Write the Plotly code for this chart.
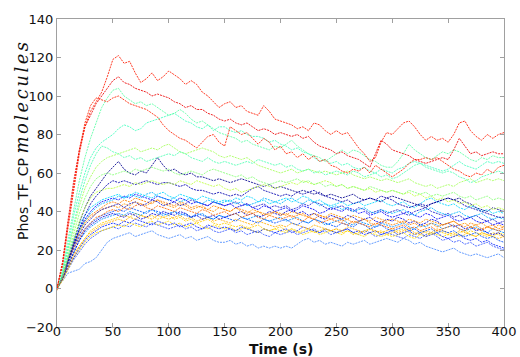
import plotly.graph_objects as go

TIME = list(range(0, 401, 5))

# each series: 81 values at t = 0, 5, ..., 400 (rows of 10 + last value)
RED_A = [0, 12, 32, 52, 70, 84, 92, 97, 102, 110,
         119, 121, 117, 118, 112, 107, 109, 112, 108, 110,
         113, 111, 109, 106, 108, 106, 102, 100, 97, 94,
         96, 97, 94, 95, 92, 91, 90, 95, 92, 88,
         87, 86, 85, 83, 84, 82, 86, 85, 82, 80,
         82, 80, 81, 77, 73, 70, 66, 68, 76, 81,
         80, 83, 86, 87, 84, 80, 77, 79, 77, 78,
         76, 80, 86, 87, 82, 79, 77, 80, 78, 80,
         81]
RED_B = [0, 14, 36, 56, 72, 84, 90, 96, 100, 104,
         108, 110, 107, 106, 104, 103, 102, 100, 101, 100,
         99, 97, 96, 94, 95, 93, 93, 91, 90, 88,
         87, 88, 86, 85, 86, 84, 82, 83, 82, 80,
         81, 80, 79, 80, 78, 79, 76, 74, 73, 72,
         70, 71, 69, 68, 67, 65, 63, 70, 77, 75,
         72, 71, 70, 69, 67, 66, 65, 66, 67, 68,
         67, 72, 78, 74, 70, 71, 69, 70, 71, 70,
         70]
RED_C = [0, 13, 34, 54, 72, 86, 95, 99, 98, 97,
         99, 100, 98, 96, 95, 94, 93, 91, 89, 85,
         82, 80, 78, 77, 75, 73, 76, 79, 80, 76,
         74, 84, 82, 80, 81, 78, 75, 78, 76, 72,
         74, 70, 71, 68, 70, 67, 69, 66, 67, 64,
         63, 61, 60, 62, 61, 63, 60, 64, 62, 60,
         58, 60, 62, 65, 67, 67, 68, 67, 68, 66,
         64, 62, 61, 59, 58, 60, 59, 62, 60, 63,
         64]
AQUA_1 = [0, 10, 26, 42, 56, 68, 78, 86, 94, 99,
          103, 104, 100, 98, 96, 97, 95, 96, 94, 92,
          90, 91, 93, 91, 88, 86, 87, 85, 83, 81,
          80, 79, 78, 76, 77, 75, 74, 73, 72, 74,
          73, 75, 77, 74, 72, 70, 69, 68, 66, 68,
          70, 72, 70, 72, 71, 69, 67, 66, 64, 63,
          63, 66, 70, 75, 72, 70, 68, 67, 69, 71,
          70, 72, 71, 69, 67, 66, 68, 67, 69, 68,
          68]
AQUA_2 = [0, 9, 23, 38, 50, 60, 68, 73, 76, 78,
          80, 83, 85, 84, 82, 83, 86, 87, 88, 89,
          90, 91, 89, 87, 86, 84, 83, 85, 82, 84,
          84, 82, 81, 82, 80, 79, 79, 78, 76, 77,
          75, 74, 72, 73, 71, 70, 68, 66, 67, 65,
          66, 64, 65, 63, 62, 63, 61, 60, 62, 61,
          60, 62, 63, 65, 66, 65, 64, 63, 62, 61,
          62, 64, 66, 64, 63, 62, 64, 66, 65, 66,
          65]
AQUA_3 = [0, 8, 21, 34, 46, 56, 64, 70, 74, 73,
          71, 70, 68, 69, 67, 68, 66, 67, 68, 69,
          70, 69, 71, 70, 68, 67, 66, 68, 66, 65,
          66, 65, 64, 65, 66, 65, 67, 66, 65, 64,
          65, 63, 64, 62, 61, 62, 60, 61, 59, 60,
          61, 60, 59, 61, 60, 58, 59, 60, 58, 59,
          57, 58, 60, 62, 64, 65, 63, 62, 61, 60,
          61, 60, 58, 57, 55, 56, 58, 59, 60, 61,
          60]
GREEN_1 = [0, 8, 20, 32, 43, 52, 58, 63, 66, 68,
           69, 70, 71, 72, 73, 71, 72, 73, 72, 74,
           75, 73, 71, 70, 71, 72, 73, 72, 71, 69,
           68, 69, 68, 67, 68, 66, 64, 63, 62, 61,
           60, 61, 62, 60, 61, 62, 61, 60, 61, 60,
           59, 60, 61, 59, 58, 57, 58, 57, 56, 57,
           56, 55, 56, 57, 55, 54, 53, 54, 52, 53,
           54, 53, 55, 56, 57, 55, 56, 57, 56, 57,
           56]
GREEN_2 = [0, 7, 18, 29, 39, 47, 53, 57, 59, 60,
           59, 60, 61, 60, 62, 61, 62, 63, 62, 61,
           62, 60, 59, 60, 61, 60, 59, 61, 62, 61,
           60, 59, 58, 59, 57, 58, 56, 55, 54, 55,
           56, 55, 56, 57, 55, 56, 54, 55, 53, 54,
           53, 54, 52, 53, 52, 51, 53, 52, 51, 50,
           51, 50, 49, 51, 50, 49, 50, 48, 49, 48,
           49, 50, 48, 47, 48, 46, 47, 48, 46, 47,
           46]
GREEN_3 = [0, 6, 16, 26, 35, 42, 47, 50, 51, 52,
           52, 53, 54, 53, 55, 54, 55, 56, 55, 54,
           55, 54, 56, 55, 54, 56, 55, 54, 53, 54,
           52, 51, 52, 50, 51, 52, 53, 54, 53, 52,
           53, 54, 55, 54, 56, 55, 54, 55, 56, 55,
           53, 54, 52, 53, 52, 51, 52, 50, 51, 50,
           51, 50, 49, 50, 48, 49, 47, 48, 46, 47,
           45, 46, 44, 45, 43, 44, 42, 43, 41, 42,
           41]
NAVY_1 = [0, 6, 15, 25, 34, 42, 48, 52, 56, 60,
          63, 66, 62, 60, 59, 61, 60, 64, 68, 64,
          61, 62, 60, 59, 60, 58, 58, 57, 56, 57,
          56, 55, 56, 57, 56, 55, 54, 53, 54, 52,
          53, 52, 51, 50, 51, 50, 49, 50, 48, 49,
          48, 47, 48, 49, 47, 46, 47, 46, 45, 47,
          48, 47, 46, 45, 44, 43, 42, 44, 45, 46,
          47, 46, 47, 45, 44, 42, 41, 40, 42, 41,
          40]
NAVY_2 = [0, 6, 14, 23, 31, 38, 44, 48, 51, 54,
          56, 55, 56, 55, 54, 55, 56, 55, 54, 55,
          55, 54, 53, 54, 52, 51, 51, 50, 49, 50,
          49, 48, 49, 48, 50, 52, 53, 51, 50, 49,
          48, 49, 48, 50, 49, 50, 51, 49, 48, 47,
          46, 45, 46, 44, 45, 46, 47, 46, 48, 47,
          46, 44, 43, 42, 43, 44, 43, 44, 45, 46,
          47, 46, 45, 43, 42, 41, 40, 39, 38, 37,
          37]
BULK_1 = [0, 7, 16, 24, 31, 36, 40, 43, 45, 46,
          47, 46, 48, 47, 49, 48, 47, 46, 48, 47,
          46, 45, 47, 46, 44, 45, 44, 43, 45, 44,
          43, 44, 42, 43, 44, 42, 41, 43, 42, 40,
          41, 42, 40, 41, 43, 42, 41, 39, 40, 42,
          41, 40, 42, 41, 39, 40, 38, 39, 40, 38,
          37, 38, 39, 40, 38, 37, 39, 38, 36, 37,
          38, 36, 35, 36, 37, 35, 34, 35, 33, 34,
          33]
BULK_2 = [0, 6, 14, 21, 27, 31, 34, 36, 38, 39,
          40, 41, 40, 42, 41, 40, 39, 41, 40, 39,
          38, 40, 39, 38, 37, 39, 38, 37, 36, 38,
          37, 36, 35, 37, 36, 35, 34, 36, 35, 34,
          35, 36, 34, 33, 35, 34, 36, 35, 34, 33,
          32, 34, 33, 32, 34, 33, 31, 32, 33, 31,
          30, 31, 32, 30, 31, 29, 30, 31, 29, 30,
          29, 30, 28, 27, 28, 29, 27, 26, 27, 25,
          24]
BULK_3 = [-1, 6, 15, 23, 30, 35, 38, 40, 42, 44,
          45, 44, 46, 45, 47, 46, 45, 44, 46, 45,
          44, 43, 45, 44, 42, 43, 42, 41, 43, 42,
          41, 40, 42, 41, 40, 39, 40, 38, 39, 40,
          38, 39, 37, 38, 39, 37, 36, 38, 37, 36,
          37, 35, 36, 34, 35, 36, 34, 33, 35, 34,
          33, 34, 35, 33, 34, 32, 33, 34, 32, 33,
          34, 35, 33, 32, 34, 33, 31, 32, 33, 31,
          32]
BULK_4 = [0, 5, 12, 18, 22, 26, 30, 32, 34, 35,
          36, 37, 38, 37, 39, 38, 37, 38, 36, 37,
          38, 36, 37, 35, 36, 34, 35, 36, 34, 33,
          34, 33, 32, 33, 31, 32, 33, 31, 30, 31,
          32, 30, 31, 29, 30, 31, 29, 30, 31, 30,
          31, 29, 30, 28, 29, 30, 31, 29, 30, 28,
          29, 30, 31, 29, 28, 30, 29, 28, 30, 29,
          28, 29, 27, 28, 30, 29, 28, 27, 29, 28,
          27]
BULK_5 = [0, 7, 16, 24, 30, 35, 39, 42, 44, 45,
          46, 48, 47, 49, 48, 47, 49, 50, 48, 47,
          46, 47, 45, 46, 47, 45, 44, 46, 45, 44,
          45, 46, 44, 45, 43, 44, 45, 47, 46, 45,
          44, 46, 47, 45, 44, 46, 45, 43, 44, 42,
          43, 41, 42, 40, 41, 42, 40, 39, 41, 40,
          39, 40, 41, 39, 38, 40, 41, 42, 40, 39,
          38, 39, 40, 38, 37, 38, 39, 37, 36, 37,
          36]
BULK_6 = [0, 6, 14, 21, 26, 31, 34, 37, 38, 40,
          41, 40, 42, 41, 43, 44, 42, 41, 43, 42,
          41, 40, 42, 41, 40, 39, 41, 40, 38, 39,
          40, 38, 39, 37, 38, 39, 37, 36, 38, 37,
          36, 37, 38, 36, 35, 37, 36, 34, 35, 36,
          35, 34, 33, 35, 34, 33, 32, 34, 33, 32,
          31, 32, 33, 31, 32, 30, 31, 32, 30, 31,
          32, 33, 31, 30, 32, 31, 30, 32, 31, 30,
          31]
BULK_7 = [0, 5, 11, 17, 22, 26, 29, 31, 33, 34,
          35, 36, 35, 37, 36, 38, 37, 36, 38, 37,
          36, 37, 38, 36, 37, 35, 36, 37, 35, 36,
          35, 34, 36, 35, 34, 33, 35, 34, 33, 32,
          33, 32, 34, 33, 32, 31, 33, 32, 31, 30,
          31, 30, 32, 31, 30, 29, 31, 30, 29, 30,
          31, 29, 30, 31, 29, 28, 30, 29, 31, 30,
          29, 28, 30, 29, 28, 27, 29, 28, 27, 26,
          27]
BULK_8 = [0, 5, 11, 16, 21, 25, 28, 30, 32, 33,
          34, 33, 35, 34, 36, 35, 34, 33, 35, 34,
          33, 34, 32, 33, 34, 32, 31, 33, 32, 31,
          32, 31, 30, 32, 31, 30, 29, 31, 30, 29,
          30, 31, 29, 30, 32, 31, 30, 29, 31, 30,
          29, 30, 31, 29, 30, 28, 29, 30, 28, 29,
          30, 28, 29, 30, 28, 29, 27, 28, 29, 27,
          26, 27, 28, 26, 25, 26, 24, 25, 23, 22,
          21]
BULK_9 = [0, 6, 14, 22, 28, 33, 36, 39, 41, 42,
          43, 44, 42, 44, 45, 43, 44, 46, 45, 43,
          44, 45, 43, 44, 46, 45, 44, 43, 45, 44,
          43, 44, 45, 43, 44, 42, 43, 44, 42, 43,
          42, 43, 41, 42, 44, 43, 45, 44, 42, 41,
          42, 43, 41, 40, 42, 41, 39, 40, 41, 39,
          40, 41, 39, 38, 40, 41, 42, 40, 39, 38,
          39, 37, 38, 36, 37, 38, 36, 35, 36, 34,
          35]
BULK_10 = [0, 6, 13, 19, 25, 29, 32, 34, 36, 37,
           38, 39, 38, 40, 39, 38, 40, 41, 39, 38,
           39, 40, 38, 39, 37, 38, 39, 37, 36, 38,
           37, 38, 39, 37, 36, 37, 38, 36, 35, 36,
           37, 35, 36, 37, 35, 34, 36, 35, 33, 34,
           35, 36, 34, 33, 35, 34, 33, 32, 34, 33,
           32, 33, 34, 32, 31, 33, 32, 34, 33, 31,
           32, 33, 31, 30, 31, 32, 30, 29, 31, 30,
           29]
BULK_11 = [0, 4, 10, 16, 20, 24, 27, 29, 30, 31,
           32, 33, 32, 34, 33, 32, 34, 35, 33, 34,
           35, 33, 34, 32, 33, 34, 32, 31, 33, 32,
           31, 32, 30, 31, 32, 30, 29, 31, 30, 31,
           30, 29, 31, 30, 28, 29, 30, 28, 29, 30,
           29, 28, 30, 29, 28, 27, 29, 28, 27, 28,
           27, 28, 29, 27, 26, 28, 27, 29, 28, 27,
           28, 27, 29, 30, 28, 27, 29, 28, 27, 29,
           28]
BULK_12 = [0, 6, 15, 23, 29, 34, 37, 39, 41, 42,
           43, 42, 44, 43, 45, 44, 43, 45, 46, 44,
           43, 42, 44, 43, 41, 42, 43, 41, 40, 42,
           41, 40, 42, 40, 39, 41, 40, 39, 38, 40,
           39, 38, 40, 39, 38, 37, 39, 38, 37, 39,
           38, 37, 36, 38, 37, 36, 35, 37, 36, 35,
           36, 35, 34, 36, 35, 34, 36, 35, 34, 33,
           34, 35, 33, 34, 32, 33, 34, 32, 31, 33,
           32]
BULK_13 = [0, 5, 12, 19, 25, 30, 33, 35, 37, 38,
           39, 38, 37, 39, 38, 36, 37, 39, 38, 40,
           39, 38, 40, 39, 37, 38, 36, 37, 38, 36,
           37, 38, 39, 40, 38, 39, 37, 38, 40, 39,
           38, 40, 41, 39, 40, 38, 39, 37, 36, 38,
           37, 36, 38, 37, 35, 36, 37, 35, 34, 36,
           35, 37, 36, 34, 35, 33, 34, 36, 35, 33,
           34, 32, 33, 31, 32, 30, 31, 29, 28, 29,
           27]
BULK_14 = [0, 7, 17, 26, 33, 38, 42, 44, 46, 47,
           48, 49, 47, 48, 50, 49, 48, 47, 49, 50,
           48, 47, 49, 48, 47, 46, 48, 47, 46, 45,
           46, 45, 47, 46, 48, 47, 45, 46, 44, 45,
           46, 47, 45, 46, 48, 47, 45, 46, 44, 43,
           44, 45, 43, 44, 45, 43, 44, 45, 46, 44,
           43, 44, 45, 43, 42, 44, 46, 47, 45, 44,
           43, 44, 42, 41, 43, 42, 40, 41, 39, 40,
           39]
BULK_15 = [0, 5, 10, 15, 19, 23, 26, 28, 30, 31,
           32, 31, 33, 32, 34, 33, 32, 34, 33, 32,
           31, 32, 33, 31, 32, 30, 31, 32, 30, 29,
           30, 31, 29, 30, 28, 29, 30, 28, 27, 29,
           28, 29, 30, 28, 29, 30, 31, 29, 30, 28,
           29, 30, 31, 29, 28, 30, 29, 27, 28, 29,
           28, 27, 26, 28, 27, 26, 28, 29, 27, 25,
           26, 24, 25, 23, 24, 22, 23, 24, 22, 21,
           20]
LOWEST = [0, 4, 8, 9, 10, 13, 14, 16, 20, 24,
          26, 27, 28, 29, 27, 28, 29, 30, 28, 27,
          26, 27, 28, 26, 27, 25, 26, 27, 25, 24,
          24, 25, 23, 24, 22, 23, 21, 22, 21, 22,
          21, 22, 21, 23, 25, 26, 24, 25, 23, 24,
          23, 22, 24, 23, 24, 25, 23, 24, 25, 26,
          25, 24, 26, 25, 23, 24, 22, 21, 20, 19,
          20, 21, 19, 18, 17, 18, 17, 16, 17, 18,
          16]

SERIES = [
    (LOWEST, "#4a8cff"), (BULK_15, "#3355ff"), (BULK_11, "#ffe000"),
    (BULK_8, "#0020ff"), (BULK_4, "#ffd000"), (BULK_7, "#ffb000"),
    (BULK_2, "#0050ff"), (BULK_10, "#0090ff"), (BULK_13, "#0000dd"),
    (BULK_6, "#ff6600"), (BULK_12, "#ff9500"), (BULK_3, "#ff8000"),
    (BULK_9, "#1a1acc"), (BULK_1, "#0000ff"), (BULK_5, "#00b8ff"),
    (BULK_14, "#00d8ff"), (NAVY_2, "#0000b0"), (NAVY_1, "#00008f"),
    (GREEN_3, "#c0ff40"), (GREEN_2, "#88ff77"), (GREEN_1, "#a6ff59"),
    (AQUA_3, "#4dffb3"), (AQUA_2, "#40ffbf"), (AQUA_1, "#5affa6"),
    (RED_C, "#ff2200"), (RED_B, "#ee0000"), (RED_A, "#ff1a00"),
]

fig = go.Figure()
for vals, col in SERIES:
    fig.add_trace(go.Scatter(
        x=TIME, y=vals, mode="lines",
        line=dict(color=col, width=1, dash="2px,1px"),
        opacity=0.85, showlegend=False, hoverinfo="skip"))

axis_common = dict(
    showgrid=False, zeroline=False, showline=True, linecolor="#a0a0a0",
    linewidth=1, mirror="allticks", ticks="inside", ticklen=4,
    tickcolor="#a0a0a0", automargin=False,
    tickfont=dict(family="DejaVu Sans", size=13, color="#111111"),
)

PLOT_L, PLOT_R, PLOT_T, PLOT_B = 57, 504, 19, 327
W, H = 520, 357
pw, ph = PLOT_R - PLOT_L, PLOT_B - PLOT_T

fig.update_layout(
    width=W, height=H,
    margin=dict(l=PLOT_L, r=W - PLOT_R, t=PLOT_T, b=H - PLOT_B),
    paper_bgcolor="white", plot_bgcolor="white",
    xaxis=dict(range=[0, 400], dtick=50, tick0=0, ticklabelstandoff=-8,
               **axis_common),
    yaxis=dict(range=[-20, 140], dtick=20, tick0=0, **axis_common),
)

# axis titles placed as annotations
fig.add_annotation(
    text="<b>Time (s)</b>", xref="paper", yref="paper",
    x=0.5, y=-(348.5 - PLOT_B) / ph, xanchor="center", yanchor="middle",
    showarrow=False, font=dict(family="DejaVu Sans", size=14, color="#111111"))
fig.add_annotation(
    text="Phos_TF_CP <span style='font-family:DejaVu Serif;font-style:italic;font-size:18px;letter-spacing:2.5px'>molecules</span>",
    xref="paper", yref="paper",
    x=(21 - PLOT_L) / pw, y=(PLOT_B - 140) / ph, xanchor="center", yanchor="middle",
    textangle=-90, showarrow=False,
    font=dict(family="DejaVu Sans", size=14, color="#111111"))

fig.write_html("out.html")
